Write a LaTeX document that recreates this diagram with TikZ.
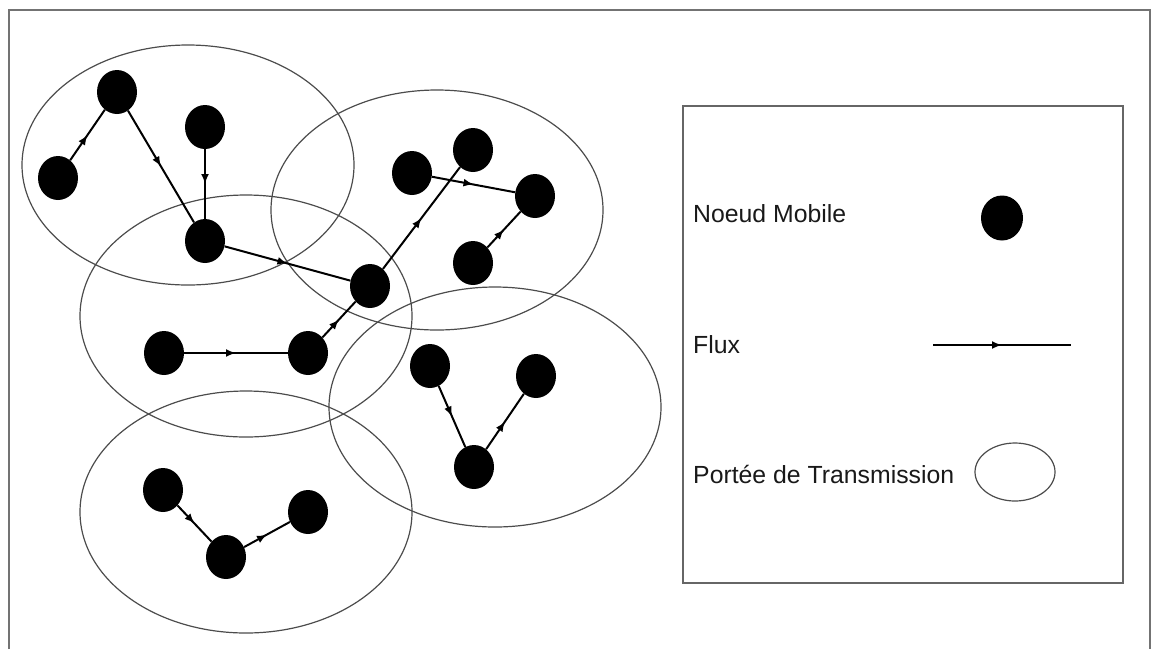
\documentclass[tikz,border=0pt]{standalone}
\usepackage{fontspec}
\setmainfont{Liberation Sans}
\usetikzlibrary{arrows.meta,decorations.markings,shapes.geometric}
\begin{document}
\begin{tikzpicture}[x=1pt,y=-1pt,
  mobile/.style={ellipse,fill=black,draw=none,minimum width=40pt,minimum height=44pt,inner sep=0pt},
  rangeline/.style={draw=black!70,line width=1.2pt},
  flow/.style={draw=black,line width=2pt,postaction={decorate},
    decoration={markings,mark=at position 0.5 with {\arrow{Latex[length=10pt,width=8pt]}}}},
  legendtext/.style={anchor=base west,font=\fontsize{24.8}{30}\selectfont,inner sep=0pt,text=black!90}]
\useasboundingbox (0,0) rectangle (1156,649);

% outer frame
\draw[black!55,line width=2pt] (9,649) -- (9,10) -- (1150,10) -- (1150,649);

% transmission ranges
\draw[rangeline] (188,165) ellipse [x radius=166, y radius=120];
\draw[rangeline] (246,316) ellipse [x radius=166, y radius=121];
\draw[rangeline] (437,210) ellipse [x radius=166, y radius=120];
\draw[rangeline] (495,407) ellipse [x radius=166, y radius=120];
\draw[rangeline] (246,512) ellipse [x radius=166, y radius=121];

% mobile nodes
\node[mobile] (a) at (117,92) {};
\node[mobile] (b) at (58,178) {};
\node[mobile] (c) at (205,127) {};
\node[mobile] (d) at (205,241) {};
\node[mobile] (e) at (370,286) {};
\node[mobile] (f) at (412,173) {};
\node[mobile] (g) at (473,150) {};
\node[mobile] (h) at (535,196) {};
\node[mobile] (i) at (473,263) {};
\node[mobile] (j) at (308,353) {};
\node[mobile] (n) at (164,353) {};
\node[mobile] (k) at (430,366) {};
\node[mobile] (l) at (536,376) {};
\node[mobile] (m) at (474,467) {};
\node[mobile] (o) at (163,490) {};
\node[mobile] (p) at (226,557) {};
\node[mobile] (q) at (308,512) {};

% flows
\draw[flow] (b) -- (a);
\draw[flow] (a) -- (d);
\draw[flow] (c) -- (d);
\draw[flow] (d) -- (e);
\draw[flow] (n) -- (j);
\draw[flow] (j) -- (e);
\draw[flow] (e) -- (g);
\draw[flow] (f) -- (h);
\draw[flow] (i) -- (h);
\draw[flow] (k) -- (m);
\draw[flow] (m) -- (l);
\draw[flow] (o) -- (p);
\draw[flow] (p) -- (q);

% legend
\draw[black!60,line width=1.5pt] (683,106) rectangle (1123,583);
\node[legendtext] (t1) at (693,222) {Noeud Mobile};
\node[mobile,minimum width=42pt,minimum height=45pt] (ld) at (1002,218) {};
\node[legendtext] (t2) at (693,353) {Flux};
\coordinate (la) at (933,345);
\coordinate (lb) at (1071,345);
\draw[flow] (la) -- (lb);
\node[legendtext] (t3) at (693,483) {Portée de Transmission};
\draw[rangeline] (1015,472) ellipse [x radius=40, y radius=29];
\end{tikzpicture}
\end{document}
